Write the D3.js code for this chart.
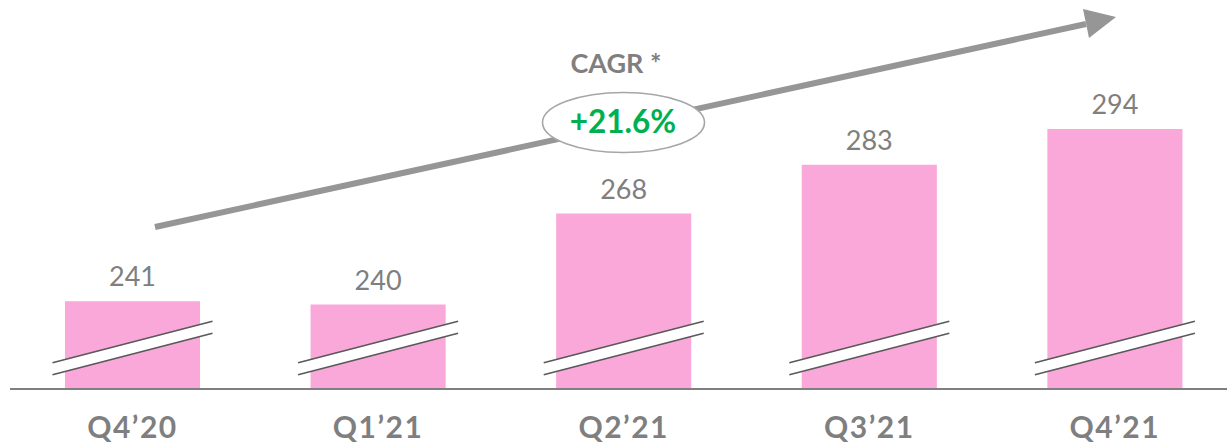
<!DOCTYPE html>
<html><head><meta charset="utf-8">
<script src="https://cdn.jsdelivr.net/npm/d3@7"></script>
<style>body{margin:0;background:#fff}svg{display:block}</style>
</head><body>
<svg id="c" width="1227" height="443"></svg>
<script>
const categories = ["Q4\u201920","Q1\u201921","Q2\u201921","Q3\u201921","Q4\u201921"];
const values = [241, 240, 268, 283, 294];
const cagrLabel = "CAGR *";
const cagrValue = "+21.6%";

const W = 1227, H = 443, baseY = 389;
const svg = d3.select("#c");
const font = "Lato, 'Open Sans', sans-serif";

const x = d3.scaleBand().domain(categories).range([9.7, 1237.7]).paddingInner(0.45).paddingOuter(0.225);
const y = d3.scaleLinear().domain([214, 300]).range([baseY, baseY - 86*3.25]);

// bars
svg.selectAll("rect.bar").data(values).join("rect")
  .attr("class","bar")
  .attr("x",(d,i)=>x(categories[i]))
  .attr("width",x.bandwidth())
  .attr("y",d=>y(d))
  .attr("height",d=>baseY-y(d))
  .attr("fill","#f9a8d9");

// break marks
const brk = svg.append("g");
categories.forEach(c=>{
  const cx = x(c)+x.bandwidth()/2;
  const x0 = cx-80, x1 = cx+80;
  const yA0 = 362.7, yA1 = 321.3, off = 12;
  brk.append("path")
    .attr("d",`M${x0},${yA0}L${x1},${yA1}L${x1},${yA1+off}L${x0},${yA0+off}Z`)
    .attr("fill","#fff");
  brk.append("line").attr("x1",x0).attr("y1",yA0).attr("x2",x1).attr("y2",yA1)
    .attr("stroke","#595959").attr("stroke-width",1.6);
  brk.append("line").attr("x1",x0).attr("y1",yA0+off).attr("x2",x1).attr("y2",yA1+off)
    .attr("stroke","#595959").attr("stroke-width",1.6);
});

// axis line
svg.append("line").attr("x1",10).attr("x2",W).attr("y1",baseY).attr("y2",baseY)
  .attr("stroke","#7f7f7f").attr("stroke-width",2);

// value labels
svg.selectAll("text.val").data(values).join("text")
  .attr("class","val")
  .attr("x",(d,i)=>x(categories[i])+x.bandwidth()/2)
  .attr("y",d=>y(d)-15)
  .attr("text-anchor","middle")
  .attr("font-family",font).attr("font-size",27)
  .attr("fill","#7f7f7f")
  .text(d=>d);

// category labels
const xAxis = d3.axisBottom(x).tickSize(0).tickPadding(0);
const ax = svg.append("g").attr("transform",`translate(0,${baseY})`).call(xAxis);
ax.select(".domain").remove();
ax.selectAll("text")
  .attr("dy",null).attr("y",49)
  .attr("font-family",font).attr("font-size",30).attr("font-weight","bold")
  .attr("letter-spacing","1.5px")
  .attr("fill","#7f7f7f");

// arrow
const ax0 = 155, ay0 = 227, ax1 = 1086, ay1 = 24;
svg.append("line").attr("x1",ax0).attr("y1",ay0).attr("x2",ax1).attr("y2",ay1)
  .attr("stroke","#969696").attr("stroke-width",6);
svg.append("path").attr("d","M1083,9L1116,17L1089,38Z").attr("fill","#969696");

// CAGR
svg.append("text").attr("x",616).attr("y",73).attr("text-anchor","middle")
  .attr("font-family",font).attr("font-size",27).attr("font-weight","bold")
  .attr("fill","#7f7f7f").text(cagrLabel);
svg.append("ellipse").attr("cx",623.5).attr("cy",122.5).attr("rx",81).attr("ry",30)
  .attr("fill","#fff").attr("stroke","#a6a6a6").attr("stroke-width",1.6);
svg.append("text").attr("x",623).attr("y",132.5).attr("text-anchor","middle")
  .attr("font-family",font).attr("font-size",31.5).attr("font-weight","bold")
  .attr("fill","#00b050").text(cagrValue);
</script>
</body></html>
